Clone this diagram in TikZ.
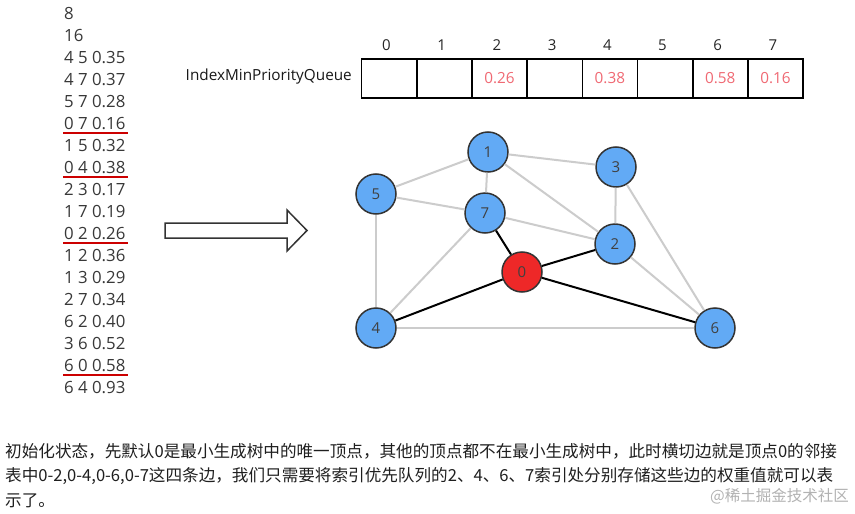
\documentclass[tikz,border=0pt]{standalone}
\usepackage{fontspec}
\setmainfont{Open Sans}
\newfontfamily\cjk{Noto Sans CJK SC}
\begin{document}
\begin{tikzpicture}[x=1pt,y=-1pt,
  lst/.style={anchor=west,inner sep=0pt,font=\fontsize{16.8}{18}\selectfont,text=black!78},
  ul/.style={draw=red!80!black,line width=2pt},
  cell/.style={draw=black,line width=1.6pt,minimum width=55.2pt,minimum height=39pt,inner sep=0pt,font=\fontsize{15.3}{17}\selectfont,text=pinkred},
  idx/.style={inner sep=0pt,font=\fontsize{15}{17}\selectfont,text=black!85},
  vtx/.style={circle,draw=black!80,line width=1.5pt,fill=vblue,minimum size=40pt,inner sep=0pt,font=\fontsize{15}{17}\selectfont,text=black!75},
  gedge/.style={draw=black!20,line width=2pt},
  bedge/.style={draw=black,line width=2pt},
  para/.style={anchor=west,inner sep=0pt,font=\cjk\fontsize{16.6}{18}\selectfont,text=black!88}
]
\definecolor{vblue}{RGB}{98,170,245}
\definecolor{vred}{RGB}{238,40,40}
\definecolor{pinkred}{RGB}{240,105,115}
\useasboundingbox[fill=white] (0,0) rectangle (855,514);

% edge list
\foreach \t [count=\i] in {8,16,4 5 0.35,4 7 0.37,5 7 0.28,0 7 0.16,1 5 0.32,0 4 0.38,2 3 0.17,1 7 0.19,0 2 0.26,1 2 0.36,1 3 0.29,2 7 0.34,6 2 0.40,3 6 0.52,6 0 0.58,6 4 0.93}
  \node[lst] (l\i) at (64,{13+22.05*(\i-1)}) {\t};
\foreach \i in {6,8,11,17}
  \draw[ul] ([xshift=-1pt,yshift=-3pt]l\i.south west) -- ([xshift=2pt,yshift=-3pt]l\i.south east);

% queue
\node[anchor=east,inner sep=0pt,font=\fontsize{15.3}{17}\selectfont,text=black!90] (qlabel) at (352,77) {IndexMinPriorityQueue};
\foreach \v [count=\i from 0] in {{},{},0.26,{},0.38,{},0.58,0.16}{
  \node[cell] (q\i) at ({361.5+27.6+55.2*\i},78.5) {\v};
  \node[idx] (i\i) at ({361.5+25+55.2*\i},45) {\i};
}

% arrow
\draw[black!80,line width=1.5pt,line join=miter] (165,223) -- (287,223) -- (287,210) -- (307,230.5) -- (287,251) -- (287,238) -- (165,238) -- cycle;

% graph
\node[vtx] (n1) at (488,152) {1};
\node[vtx] (n3) at (616,167) {3};
\node[vtx] (n5) at (376,194) {5};
\node[vtx] (n7) at (485,213) {7};
\node[vtx] (n2) at (615,244) {2};
\node[vtx,fill=vred] (n0) at (522,272) {0};
\node[vtx] (n4) at (376,328) {4};
\node[vtx] (n6) at (715,328) {6};
\foreach \a/\b in {1/5,1/3,1/7,1/2,5/7,5/4,7/2,7/4,3/2,3/6,2/6,4/6}
  \draw[gedge] (n\a) -- (n\b);
\foreach \b in {7,2,4,6}
  \draw[bedge] (n0) -- (n\b);

% paragraph
\node[para] (p1) at (5,451) {初始化状态，先默认0是最小生成树中的唯一顶点，其他的顶点都不在最小生成树中，此时横切边就是顶点0的邻接};
\node[para] (p2) at (5,476) {表中0-2,0-4,0-6,0-7这四条边，我们只需要将索引优先队列的2、4、6、7索引处分别存储这些边的权重值就可以表};
\node[para] (p3) at (5,501) {示了。};
\node[anchor=east,inner sep=0pt,font=\cjk\fontsize{15.5}{18}\selectfont,text=black!30] (wm) at (849,496) {@稀土掘金技术社区};
\end{tikzpicture}
\end{document}
